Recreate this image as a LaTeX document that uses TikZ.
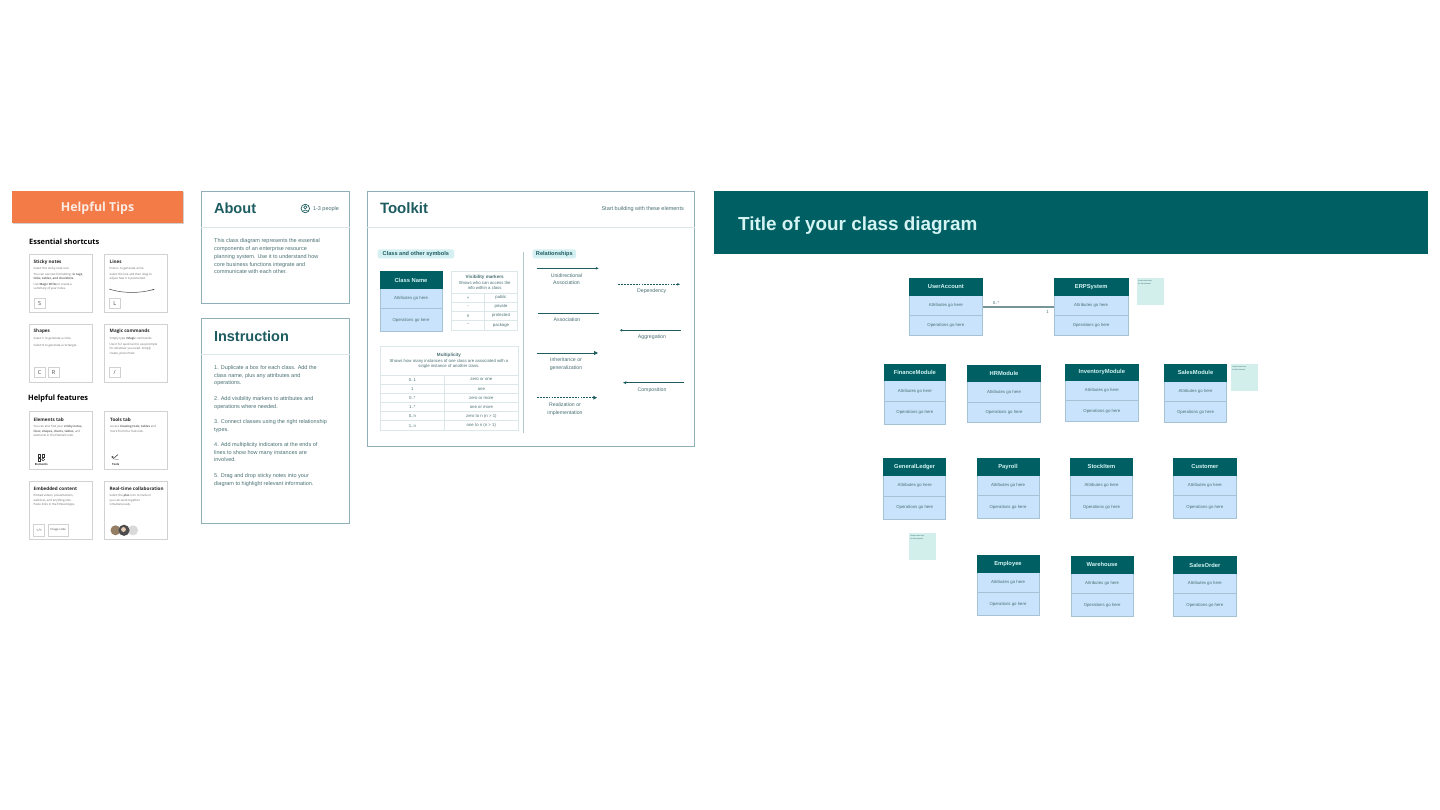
\documentclass[tikz,border=0pt]{standalone}
\usepackage{fontspec}
\setmainfont{Liberation Sans}
\newfontfamily\tipfont{Open Sans}[BoldFont={Open Sans Bold}]
\usetikzlibrary{arrows.meta}
\definecolor{deepteal}{HTML}{005F63}
\definecolor{ink}{HTML}{1D5C60}
\definecolor{bodyink}{HTML}{4A7074}
\definecolor{lightblue}{HTML}{C8E3FB}
\definecolor{boxedge}{HTML}{A6C3D6}
\definecolor{stickyc}{HTML}{D3EFEC}
\definecolor{badgec}{HTML}{D5F0F2}
\definecolor{framec}{HTML}{8FB0B8}
\definecolor{hair}{HTML}{DCE7EA}
\definecolor{titlelight}{HTML}{D4F3F3}
\definecolor{tiporange}{HTML}{F27B48}
\definecolor{cardedge}{HTML}{D2D2D2}
\newcommand{\fs}[1]{\fontsize{#1}{#1}\selectfont}
\tikzset{
  x=1pt,y=-1pt,
  headtext/.style={inner sep=0pt,outer sep=0pt,text=ink},
  lefttext/.style={inner sep=0pt,outer sep=0pt,anchor=west,text=bodyink,align=left},
  cellbase/.style={anchor=north west,inner sep=0pt,outer sep=0pt,draw=boxedge,line width=.45pt},
  headcell/.style={cellbase,draw=deepteal,fill=deepteal,text=titlelight,font=\bfseries\fs{5.8}},
  bodycell/.style={cellbase,fill=lightblue,text=bodyink,font=\fs{4.3}},
  ghost/.style={anchor=north west,inner sep=0pt,outer sep=0pt},
  panel/.style={anchor=north west,inner sep=0pt,outer sep=0pt,draw=framec,line width=.6pt,fill=white},
  card/.style={anchor=north west,inner sep=0pt,outer sep=0pt,draw=cardedge,line width=.6pt,fill=white},
  keycap/.style={anchor=north west,inner sep=0pt,outer sep=0pt,draw=cardedge,line width=.5pt,fill=white,text=black!75,font=\tipfont\fs{5.5}},
  stickynote/.style={anchor=north west,inner sep=0pt,outer sep=0pt,fill=stickyc},
  tcell/.style={anchor=north west,inner sep=0pt,outer sep=0pt,draw=hair,line width=.5pt,text=bodyink,font=\fs{4.3},align=center},
  badgebox/.style={anchor=north west,inner sep=0pt,outer sep=0pt,fill=badgec,rounded corners=1.5pt,text=ink,font=\bfseries\fs{5.6}},
  cardtitle/.style={inner sep=0pt,anchor=west,text=black!85,font=\tipfont\bfseries\fs{4.6}},
  cardtext/.style={inner sep=0pt,anchor=north west,align=left,text=black!60,font=\tipfont\fontsize{2.9}{4.4}\selectfont},
  rel/.style={draw=ink,line width=.8pt},
  reldash/.style={rel,dash pattern=on 1.8pt off 1.1pt},
  reltext/.style={inner sep=0pt,text=bodyink,font=\fs{5.2}},
}
% id x1 x2 y1 y2 y3 y4 title
\newcommand{\classbox}[8]{%
  \pgfmathsetmacro{\clsW}{#3-#2}%
  \pgfmathsetmacro{\clsA}{#5-#4}%
  \pgfmathsetmacro{\clsB}{#6-#5}%
  \pgfmathsetmacro{\clsC}{#7-#6}%
  \pgfmathsetmacro{\clsH}{#7-#4}%
  \node[ghost,minimum width=\clsW pt,minimum height=\clsH pt] (#1) at (#2,#4) {};
  \node[bodycell,minimum width=\clsW pt,minimum height=\clsB pt] (#1-a) at (#2,#5) {Attributes go here};
  \node[bodycell,minimum width=\clsW pt,minimum height=\clsC pt] (#1-o) at (#2,#6) {Operations go here};
  \node[headcell,minimum width=\clsW pt,minimum height=\clsA pt] (#1-h) at (#2,#4) {#8};
}
\newcommand{\stickybox}[3]{\node[stickynote,minimum width=27pt,minimum height=27pt] (#1) at (#2,#3) {};
  \node[inner sep=0pt,anchor=north west,text=ink,font=\fontsize{1.8}{2.6}\selectfont,align=left] (#1-t) at (#2+1.5,#3+2) {Insert notes here\\for this element};}
\newcommand{\tcellbox}[7]{% id x1 x2 y1 y2 text
  \pgfmathsetmacro{\cellW}{#3-#2}\pgfmathsetmacro{\cellH}{#5-#4}%
  \node[tcell,minimum width=\cellW pt,minimum height=\cellH pt,#7] (#1) at (#2,#4) {#6};}
\newcommand{\relline}[6]{% id x1 x2 y style
  \coordinate (#1-s) at (#2,#4);
  \coordinate (#1-e) at (#3,#4);
  \draw[#5,#6] (#1-s) -- (#1-e);}
\begin{document}
\begin{tikzpicture}
\useasboundingbox (0,0) rectangle (1440,810);
\fill[white] (0,0) rectangle (1440,810);

% ---- Helpful tips
\fill[black!18] (12.5,192) rectangle (183.5,224);
\node[anchor=north west,inner sep=0pt,outer sep=0pt,fill=tiporange,minimum width=171pt,minimum height=32pt,text=white!85!tiporange,font=\tipfont\bfseries\fs{12.4},text height=9pt,text depth=0pt] (tips) at (12,191) {Helpful Tips};
\node[inner sep=0pt,anchor=west,text=black,font=\tipfont\bfseries\fs{7.4}] (essential) at (29,241.3) {Essential shortcuts};
\node[inner sep=0pt,anchor=west,text=black,font=\tipfont\bfseries\fs{7.4}] (features) at (28,398.3) {Helpful features};

\node[card,minimum width=63pt,minimum height=58pt] (c1) at (29,254.5) {};
\node[card,minimum width=63.5pt,minimum height=58pt] (c2) at (104,254.5) {};
\node[card,minimum width=63pt,minimum height=58pt] (c3) at (29,324.5) {};
\node[card,minimum width=63.5pt,minimum height=58pt] (c4) at (104,324.5) {};
\node[card,minimum width=63pt,minimum height=58pt] (c5) at (29,411) {};
\node[card,minimum width=63.5pt,minimum height=58pt] (c6) at (104,411) {};
\node[card,minimum width=63pt,minimum height=58pt] (c7) at (29,481) {};
\node[card,minimum width=63.5pt,minimum height=58pt] (c8) at (104,481) {};

\node[cardtitle] (c1t) at (33.5,262) {Sticky notes};
\node[cardtext] (c1x) at (33.5,267) {Select this sticky note icon.\\[1.2pt]You can use text formatting: {\bfseries in tags,}\\{\bfseries links, tables, and checklists.}\\[1.2pt]Use {\bfseries Magic Write} to create a\\summary of your notes.};
\node[cardtitle] (c2t) at (109.5,262) {Lines};
\node[cardtext] (c2x) at (109.5,267) {Press L to generate a line.\\[1.2pt]Select the line and then drag to\\adjust how it is positioned.};
\node[cardtitle] (c3t) at (33.5,331.5) {Shapes};
\node[cardtext] (c3x) at (33.5,337.5) {Select C to generate a circle.\\[2.5pt]Select R to generate a rectangle.};
\node[cardtitle] (c4t) at (109.5,331.5) {Magic commands};
\node[cardtext] (c4x) at (109.5,337.5) {Simply type {\bfseries /Magic} commands.\\[1.2pt]Use it for quick text to use prompts\\for whatever you need. Simply\\create, press Enter.};
\node[cardtitle] (c5t) at (33.5,419.3) {Elements tab};
\node[cardtext] (c5x) at (33.5,425.3) {You can also find your {\bfseries sticky notes,}\\{\bfseries lines, shapes, charts, tables,} and\\elements in the Elements tab.};
\node[cardtitle] (c6t) at (110,419.3) {Tools tab};
\node[cardtext] (c6x) at (110,425.3) {Access {\bfseries drawing tools, tables} and\\more from the Tools tab.};
\node[cardtitle] (c7t) at (33.5,488.3) {Embedded content};
\node[cardtext] (c7x) at (33.5,494.3) {Embed videos, presentations,\\websites, and anything else.\\Paste links in the Embed Apps.};
\node[cardtitle] (c8t) at (109.5,488.3) {Real-time collaboration};
\node[cardtext] (c8x) at (109.5,494.3) {Select the {\bfseries plus} icon to invite or\\you can work together\\simultaneously.};

\node[keycap,minimum width=10.5pt,minimum height=10pt] (kS) at (34.3,298.3) {S};
\node[keycap,minimum width=10.5pt,minimum height=10pt] (kL) at (109.5,298.3) {L};
\node[keycap,minimum width=10.5pt,minimum height=10pt] (kC) at (34.3,367.7) {C};
\node[keycap,minimum width=10.5pt,minimum height=10pt] (kR) at (48.3,367.7) {R};
\node[keycap,minimum width=10.5pt,minimum height=10pt] (kSl) at (109.5,367.7) {/};
\draw[black!70,line width=.5pt,-{Stealth[length=2pt,width=1.6pt]}] (109,289) .. controls (122,293.5) and (140,293.5) .. (154.5,289.2);

% elements icon
\draw[black!80,line width=.45pt] (38,454.5) rectangle (40.5,457) (42,454.5) rectangle (44.5,457) (38,458.3) rectangle (40.5,460.8);
\draw[black!80,line width=.45pt] (43.2,459.5) circle (1.4);
\node[inner sep=0pt,text=black!80,font=\tipfont\bfseries\fs{2.8}] (lab-el) at (41.3,464.3) {Elements};
% tools icon
\draw[black!80,line width=.55pt] (113,459) -- (118,454.5);
\draw[black!80,line width=.45pt] (114.5,459.5) -- (118.5,459.5) (112.5,457) circle (.9);
\node[inner sep=0pt,text=black!80,font=\tipfont\bfseries\fs{2.8}] (lab-to) at (115.7,464.3) {Tools};
% embed
\node[keycap,minimum width=11pt,minimum height=11.5pt,font=\tipfont\fs{3.6}] (kE) at (33.7,524.3) {</>};
\node[keycap,minimum width=20.5pt,minimum height=11.5pt,font=\tipfont\fs{2.8}] (kI) at (48,524.3) {Image code};
% avatars
\fill[black!15] (133,530.3) circle (5);
\fill[brown!55!black!70] (115.5,530.3) circle (5);
\fill[black!70] (124,530.3) circle (5.6);
\fill[brown!40!white] (123.5,529.5) circle (2.4);

% ---- About
\node[panel,minimum width=148.4pt,minimum height=112pt] (about) at (201.3,191.3) {};
\draw[hair,line width=.7pt] (about.west |- 0,227.3) -- (about.east |- 0,227.3);
\node[headtext,anchor=west,font=\bfseries\fs{14.6}] (about-t) at (214,208.7) {About};
\node[draw=ink,circle,line width=.7pt,minimum size=8.5pt,inner sep=0pt] (people) at (305.3,208.5) {};
\draw[ink,line width=.6pt] (305.3,207.3) circle (1.6);
\draw[ink,line width=.6pt] (302.8,211) .. controls (303.8,209.7) and (306.8,209.7) .. (307.8,211);
\node[lefttext,font=\fs{5.5}] (people-t) at (313,208.9) {1-3 people};
\node[inner sep=0pt,anchor=north west,align=left,text=bodyink,font=\fontsize{5.5}{7.85}\selectfont] (about-x) at (214,238.4) {This class diagram represents the essential\\components of an enterprise resource\\planning system. Use it to understand how\\core business functions integrate and\\communicate with each other.};

% ---- Instruction
\node[panel,minimum width=148.4pt,minimum height=205pt] (instr) at (201.3,318.7) {};
\draw[hair,line width=.7pt] (instr.west |- 0,354.7) -- (instr.east |- 0,354.7);
\node[headtext,anchor=west,font=\bfseries\fs{14.5}] (instr-t) at (214,336) {Instruction};
\node[inner sep=0pt,anchor=north west,align=left,text=bodyink,font=\fontsize{5.5}{7.7}\selectfont] (i1) at (214,365.2) {1. Duplicate a box for each class. Add the\\class name, plus any attributes and\\operations.};
\node[inner sep=0pt,anchor=north west,align=left,text=bodyink,font=\fontsize{5.5}{7.7}\selectfont] (i2) at (214,396.4) {2. Add visibility markers to attributes and\\operations where needed.};
\node[inner sep=0pt,anchor=north west,align=left,text=bodyink,font=\fontsize{5.5}{7.7}\selectfont] (i3) at (214,419.3) {3. Connect classes using the right relationship\\types.};
\node[inner sep=0pt,anchor=north west,align=left,text=bodyink,font=\fontsize{5.5}{7.7}\selectfont] (i4) at (214,442.4) {4. Add multiplicity indicators at the ends of\\lines to show how many instances are\\involved.};
\node[inner sep=0pt,anchor=north west,align=left,text=bodyink,font=\fontsize{5.5}{7.7}\selectfont] (i5) at (214,473.5) {5. Drag and drop sticky notes into your\\diagram to highlight relevant information.};

% ---- Toolkit
\node[panel,minimum width=327.5pt,minimum height=255.2pt] (toolkit) at (367,191.3) {};
\draw[hair,line width=.7pt] (toolkit.west |- 0,227.3) -- (toolkit.east |- 0,227.3);
\node[headtext,anchor=west,font=\bfseries\fs{15}] (toolkit-t) at (380,208.3) {Toolkit};
\node[inner sep=0pt,anchor=east,text=bodyink,font=\fs{5.5}] (toolkit-s) at (684,209) {Start building with these elements};
\node[badgebox,minimum width=76.3pt,minimum height=9pt] (b1) at (377.7,249.3) {Class and other symbols};
\node[badgebox,minimum width=43.3pt,minimum height=9pt] (b2) at (532.7,249.3) {Relationships};
\coordinate (sepA) at (523.7,251.7);
\coordinate (sepB) at (523.7,433.3);
\draw[framec!70,line width=.7pt] (sepA) -- (sepB);

\classbox{kit}{380}{442}{271.7}{288.3}{308.7}{331.7}{Class Name}

% visibility table
\tcellbox{vh}{451.7}{517.7}{271.7}{293.3}{{\bfseries\fs{4.6}Visibility markers}\\[1.2pt]{Shows who can access the}\\[1.2pt]{info within a class}}{}
\tcellbox{v1a}{451.7}{484.3}{293.3}{302.3}{+}{}
\tcellbox{v1b}{484.3}{517.7}{293.3}{302.3}{public}{}
\tcellbox{v2a}{451.7}{484.3}{302.3}{311.3}{-}{}
\tcellbox{v2b}{484.3}{517.7}{302.3}{311.3}{private}{}
\tcellbox{v3a}{451.7}{484.3}{311.3}{320.3}{\#}{}
\tcellbox{v3b}{484.3}{517.7}{311.3}{320.3}{protected}{}
\tcellbox{v4a}{451.7}{484.3}{320.3}{330}{\textasciitilde}{}
\tcellbox{v4b}{484.3}{517.7}{320.3}{330}{package}{}

% multiplicity table
\tcellbox{mh}{380}{518}{346.3}{375.3}{{\bfseries\fs{4.6}Multiplicity}\\[1.2pt]{Shows how many instances of one class are associated with a}\\[1.2pt]{single instance of another class.}}{}
\tcellbox{m1a}{380}{444.7}{375.3}{384.3}{0..1}{}
\tcellbox{m1b}{444.7}{518}{375.3}{384.3}{zero or one}{}
\tcellbox{m2a}{380}{444.7}{384.3}{393.7}{1}{}
\tcellbox{m2b}{444.7}{518}{384.3}{393.7}{one}{}
\tcellbox{m3a}{380}{444.7}{393.7}{402.7}{0..*}{}
\tcellbox{m3b}{444.7}{518}{393.7}{402.7}{zero or more}{}
\tcellbox{m4a}{380}{444.7}{402.7}{411.7}{1..*}{}
\tcellbox{m4b}{444.7}{518}{402.7}{411.7}{one or more}{}
\tcellbox{m5a}{380}{444.7}{411.7}{420.7}{0..n}{}
\tcellbox{m5b}{444.7}{518}{411.7}{420.7}{zero to n (n > 1)}{}
\tcellbox{m6a}{380}{444.7}{420.7}{430.7}{1..n}{}
\tcellbox{m6b}{444.7}{518}{420.7}{430.7}{one to n (n > 1)}{}

% relationships
\relline{r1}{536.7}{598.7}{268.3}{rel}{-{Stealth[length=3pt,width=2.6pt]}}
\node[reltext,align=center] (r1t) at (566.5,279.2) {Unidirectional\\[2.6pt]Association};
\relline{r2}{618.3}{680}{284.3}{reldash}{-{Stealth[length=3pt,width=2.6pt]}}
\node[reltext] (r2t) at (651.7,291) {Dependency};
\relline{r3}{538}{599}{313.7}{rel}{}
\node[reltext] (r3t) at (567,320) {Association};
\relline{r4}{620}{681}{330.3}{rel}{{Diamond[open,length=3pt,width=2.4pt]}-}
\node[reltext] (r4t) at (652,337) {Aggregation};
\relline{r5}{537}{598}{353}{rel}{-{Triangle[length=4pt,width=4pt]}}
\node[reltext,align=center] (r5t) at (566,364.3) {Inheritance or\\[2.6pt]generalization};
\relline{r6}{537}{597}{397.7}{reldash}{-{Triangle[length=3.6pt,width=3.6pt]}}
\node[reltext,align=center] (r6t) at (565,409) {Realization or\\[2.6pt]implementation};
\relline{r7}{623}{684}{382.7}{rel}{{Stealth[length=3.5pt,width=3pt]}-}
\node[reltext] (r7t) at (652,390) {Composition};

% ---- Title banner
\node[anchor=north west,inner sep=0pt,outer sep=0pt,fill=deepteal,minimum width=714pt,minimum height=63pt] (banner) at (714,191) {};
\node[inner sep=0pt,anchor=west,text=titlelight,font=\bfseries\fs{18.9}] (banner-t) at (738,225.5) {Title of your class diagram};

% ---- Classes
\classbox{ua}{909}{982.7}{278.3}{295}{315.3}{335.7}{UserAccount}
\classbox{erp}{1054.3}{1128}{278.3}{295}{315.3}{335.7}{ERPSystem}
\classbox{fin}{884}{945.7}{364}{380.7}{401.3}{424.3}{FinanceModule}
\classbox{hr}{967.3}{1040.7}{365}{381.7}{402.3}{422.7}{HRModule}
\classbox{inv}{1065}{1138.7}{364}{380.3}{400.3}{421.7}{InventoryModule}
\classbox{sal}{1164.7}{1226.3}{364.3}{381}{401.7}{422.7}{SalesModule}
\classbox{gl}{883.7}{945.7}{458.7}{475.7}{496}{519.7}{GeneralLedger}
\classbox{pay}{977}{1039}{458}{475}{495.3}{518.7}{Payroll}
\classbox{stk}{1070.3}{1132.7}{458}{475}{495.3}{518.7}{StockItem}
\classbox{cus}{1173.7}{1236}{458}{475}{495.3}{518.7}{Customer}
\classbox{emp}{977}{1039}{555.3}{572}{592.3}{615.7}{Employee}
\classbox{war}{1071.3}{1133}{556.3}{573.3}{593.3}{616.7}{Warehouse}
\classbox{so}{1173.7}{1236}{556.3}{573.7}{593.7}{616.7}{SalesOrder}

\stickybox{s1}{1136.7}{278}
\stickybox{s2}{1231}{364}
\stickybox{s3}{909}{533}

\draw[ink!85!black!60,line width=1.1pt] (ua.east) -- (erp.west);
\node[inner sep=0pt,text=bodyink,font=\fs{4.3}] (mult1) at (996,303.3) {0..*};
\node[inner sep=0pt,text=bodyink,font=\fs{4.3}] (mult2) at (1047.5,312.3) {1};
\end{tikzpicture}
\end{document}
